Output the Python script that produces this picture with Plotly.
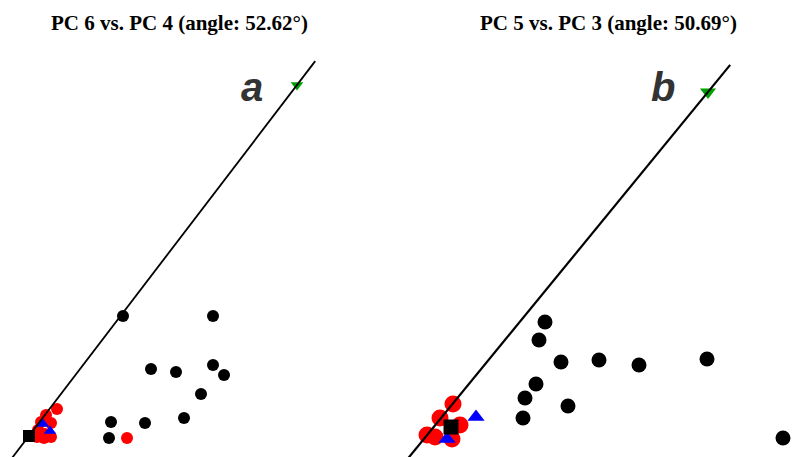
import math
import plotly.graph_objects as go

# ---------------- Panel a: PC 6 vs. PC 4 ----------------
a_black_x = [0.94, 1.84, 1.22, 1.47, 1.84, 1.95, 1.72, 1.55, 0.82, 1.16, 0.80]
a_black_y = [1.20, 1.20, 0.67, 0.64, 0.71, 0.61, 0.42, 0.18, 0.14, 0.13, -0.02]
a_red_x = [0.98, 0.28, 0.17, 0.12, 0.22, 0.09, 0.16, 0.08, 0.22, 0.15]
a_red_y = [-0.02, 0.27, 0.21, 0.14, 0.13, 0.06, 0.02, -0.01, -0.01, -0.02]
a_blue_x = [0.14, 0.21]
a_blue_y = [0.12, 0.05]
a_square_x = [0.0]
a_square_y = [0.0]
a_green_x = [2.68]
a_green_y = [3.51]
a_angle = 52.62

# ---------------- Panel b: PC 5 vs. PC 3 ----------------
b_black_x = [0.94, 0.88, 1.10, 1.48, 1.88, 2.56, 0.85, 0.74, 1.17, 0.72, 3.32]
b_black_y = [1.05, 0.87, 0.65, 0.67, 0.62, 0.68, 0.43, 0.29, 0.21, 0.09, -0.11]
b_red_x = [0.02, -0.11, 0.09, -0.24, -0.16, 0.01]
b_red_y = [0.23, 0.09, 0.02, -0.08, -0.10, -0.12]
b_blue_x = [0.25, -0.04]
b_blue_y = [0.10, -0.12]
b_square_x = [0.0]
b_square_y = [0.0]
b_green_x = [2.57]
b_green_y = [3.35]
b_angle = 50.69

titles = ["PC 6 vs. PC 4 (angle: 52.62°)", "PC 5 vs. PC 3 (angle: 50.69°)"]
letters = ["a", "b"]

GREEN = "#00a000"

fig = go.Figure()


def line_through(gx, gy, angle, up, down):
    th = math.radians(angle)
    c, s = math.cos(th), math.sin(th)
    return [gx - down * c, gx + up * c], [gy - down * s, gy + up * s]


def add_panel(ax, bx, by, rx, ry, ux, uy, sx, sy, gx, gy, angle, up,
              dot, rdot, tri, sq, gtri, lw):
    xa, ya = "x" + ax, "y" + ax
    common = dict(mode="markers", xaxis=xa, yaxis=ya, showlegend=False,
                  hoverinfo="skip", cliponaxis=False)
    fig.add_trace(go.Scatter(x=bx, y=by, marker=dict(color="black", size=dot), **common))
    fig.add_trace(go.Scatter(x=rx, y=ry, marker=dict(color="red", size=rdot), **common))
    fig.add_trace(go.Scatter(x=ux, y=uy, marker=dict(color="blue", size=tri, symbol="triangle-up"), **common))
    fig.add_trace(go.Scatter(x=sx, y=sy, marker=dict(color="black", size=sq, symbol="square"), **common))
    fig.add_trace(go.Scatter(x=gx, y=gy, marker=dict(color=GREEN, size=gtri, symbol="triangle-down"), **common))
    lx, ly = line_through(gx[0], gy[0], angle, up, 6.0)
    fig.add_trace(go.Scatter(x=lx, y=ly, mode="lines", xaxis=xa, yaxis=ya,
                             line=dict(color="black", width=lw),
                             showlegend=False, hoverinfo="skip"))


add_panel("", a_black_x, a_black_y, a_red_x, a_red_y, a_blue_x, a_blue_y,
          a_square_x, a_square_y, a_green_x, a_green_y, a_angle, 0.30,
          12, 12, 11, 12, 11, 1.8)
add_panel("2", b_black_x, b_black_y, b_red_x, b_red_y, b_blue_x, b_blue_y,
          b_square_x, b_square_y, b_green_x, b_green_y, b_angle, 0.35,
          15, 17, 15, 15, 14, 2.2)

hidden = dict(visible=False, showgrid=False, zeroline=False, fixedrange=True)

fig.update_layout(
    width=796, height=457,
    margin=dict(l=0, r=0, t=50, b=0),
    paper_bgcolor="white", plot_bgcolor="white",
    xaxis=dict(domain=[0, 0.5], range=[-0.29, 3.69], **hidden),
    yaxis=dict(range=[-0.21, 3.86], **hidden),
    xaxis2=dict(domain=[0.5, 1.0], range=[-0.53, 3.45], anchor="y2", **hidden),
    yaxis2=dict(range=[-0.30, 3.77], anchor="x2", **hidden),
)

title_font = dict(family="Liberation Serif, Times New Roman, serif", size=21, color="black")
letter_font = dict(family="Liberation Sans, Arial, sans-serif", size=40, color="#333333")

for xc, t in zip([0.2249, 0.765], titles):
    fig.add_annotation(text="<b>" + t + "</b>", x=xc, y=1.066, xref="paper", yref="paper",
                       xanchor="center", yanchor="middle", showarrow=False, font=title_font)

for xc, l in zip([0.3166, 0.833], letters):
    fig.add_annotation(text="<b><i>" + l + "</i></b>", x=xc, y=0.908, xref="paper", yref="paper",
                       xanchor="center", yanchor="middle", showarrow=False, font=letter_font)

fig.write_html("out.html")
